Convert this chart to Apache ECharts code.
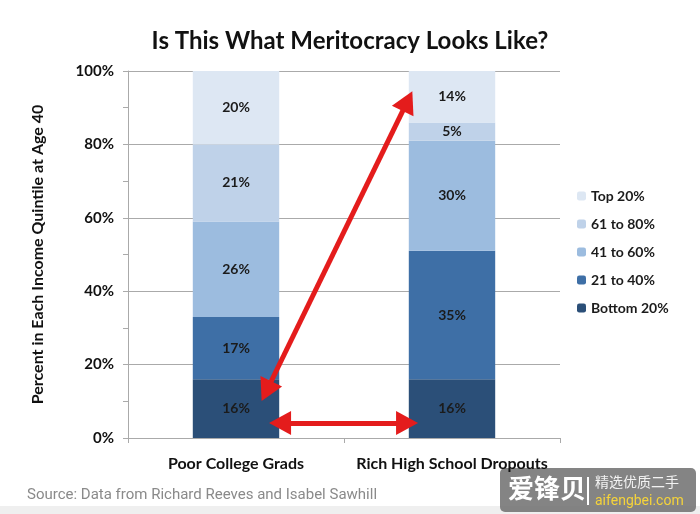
<!DOCTYPE html>
<html><head><meta charset="utf-8">
<script src="https://cdn.jsdelivr.net/npm/echarts@6/dist/echarts.min.js"></script>
<style>html,body{margin:0;padding:0;background:#fff}#c{width:700px;height:514px}</style>
</head><body><div id="c"></div>
<script>
var categories = ['Poor College Grads', 'Rich High School Dropouts'];
var seriesNames = ['Bottom 20%', '21 to 40%', '41 to 60%', '61 to 80%', 'Top 20%'];
var bottom20 = [16, 16];
var q21to40 = [17, 35];
var q41to60 = [26, 30];
var q61to80 = [21, 5];
var top20 = [20, 14];
var yTicks = [0, 20, 40, 60, 80, 100];
// annotation arrows (centres of arrowheads), in (category position, percent) space
var diagArrow = [[1.294, 91.8], [0.641, 12.8]];
var flatArrow = [[0.704, 4.1], [1.292, 4.1]];

var colors = ['#2b4f78', '#3e6fa6', '#9cbcdf', '#bfd2e9', '#dde7f3'];
var values = [bottom20, q21to40, q41to60, q61to80, top20];
var FONT = 'Lato';

var series = seriesNames.map(function (n, i) {
  return {
    name: n, type: 'bar', stack: 'all', barWidth: '40%',
    data: values[i],
    itemStyle: { color: colors[i] },
    label: { show: true, position: 'inside', formatter: '{c}%', fontFamily: FONT,
      fontWeight: 'bold', fontSize: 14, color: '#1b1b1b' }
  };
});
series.push({
  type: 'line', xAxisIndex: 1, data: [], silent: true,
  markLine: {
    silent: true, symbol: ['triangle', 'triangle'], symbolSize: [24, 22],
    label: { show: false },
    lineStyle: { color: '#e41c1c', width: 5, type: 'solid' },
    emphasis: { disabled: true },
    data: [
      [{ coord: diagArrow[0] }, { coord: diagArrow[1] }],
      [{ coord: flatArrow[0] }, { coord: flatArrow[1] }]
    ]
  }
});

var chart = echarts.init(document.getElementById('c'), null, { renderer: 'canvas' });
chart.setOption({
  animation: false,
  backgroundColor: '#ffffff',
  title: { text: 'Is This What Meritocracy Looks Like?', left: 'center', top: 24,
    textStyle: { fontFamily: FONT, fontWeight: 'bold', fontSize: 24, color: '#111' } },
  legend: {
    orient: 'vertical', left: 572, top: 184, itemWidth: 9, itemHeight: 9, itemGap: 14,
    data: seriesNames.slice().reverse(),
    textStyle: { fontFamily: FONT, fontWeight: 'bold', fontSize: 14, color: '#1b1b1b' }
  },
  grid: { left: 128, right: 140, top: 71, bottom: 76, containLabel: false },
  xAxis: [{
    type: 'category', data: categories,
    axisLine: { lineStyle: { color: '#aaa', width: 1 } },
    axisTick: { show: true, length: 5, lineStyle: { color: '#aaa' } },
    axisLabel: { interval: 0, margin: 18, fontFamily: FONT, fontWeight: 'bold', fontSize: 16, color: '#111' }
  }, {
    type: 'value', min: 0, max: 2, show: false
  }],
  yAxis: {
    type: 'value', min: 0, max: 100, interval: 20,
    name: 'Percent in Each Income Quintile at Age 40', nameLocation: 'middle', nameGap: 82,
    nameTextStyle: { fontFamily: FONT, fontWeight: 'bold', fontSize: 16, color: '#111' },
    axisLine: { show: true, lineStyle: { color: '#aaa' } },
    axisTick: { show: true, length: 5, lineStyle: { color: '#aaa' } },
    minorTick: { show: true, splitNumber: 2, length: 5, lineStyle: { color: '#aaa' } },
    splitLine: { show: true, lineStyle: { color: '#aaa', width: 1 } },
    axisLabel: { formatter: function (v) { return yTicks.indexOf(v) >= 0 ? v + '%' : ''; },
      margin: 14, fontFamily: FONT, fontWeight: 'bold', fontSize: 15, color: '#111' }
  },
  graphic: [
    { type: 'rect', left: 0, top: 506, shape: { width: 700, height: 8 }, style: { fill: '#efefef' }, silent: true },
    { type: 'text', left: 27, top: 488, style: { text: 'Source: Data from Richard Reeves and Isabel Sawhill',
      font: '15px Roboto', fill: '#8a8a8a' } },
    { type: 'rect', left: 500, top: 468, shape: { width: 196, height: 44, r: 5 }, style: { fill: 'rgba(110,110,110,0.85)' }, silent: true },
    { type: 'text', left: 508, top: 475, style: { text: '爱锋贝', font: 'bold 26px "Noto Sans CJK SC"', fill: '#ffffff' } },
    { type: 'rect', left: 587, top: 477, shape: { width: 2, height: 28 }, style: { fill: '#ffffff' } },
    { type: 'text', left: 595, top: 475, style: { text: '精选优质二手', font: '14px "Noto Sans CJK SC"', fill: '#f2f2f2' } },
    { type: 'text', left: 595, top: 494, style: { text: 'aifengbei.com', font: '14px Roboto', fill: '#f5d33a' } }
  ],
  series: series
});
</script></body></html>
